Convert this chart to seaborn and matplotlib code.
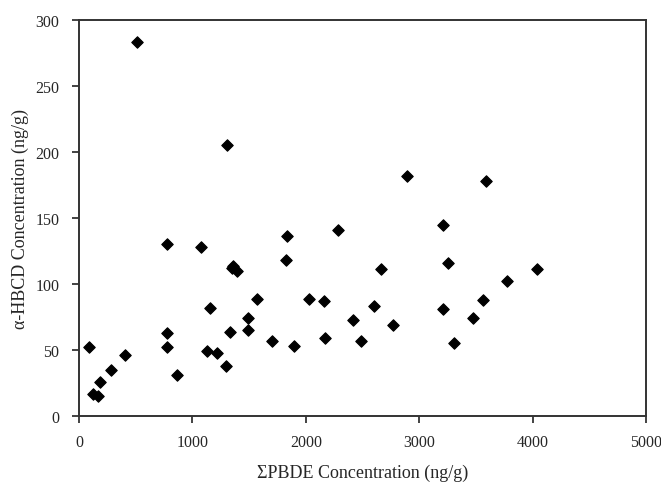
import pandas as pd
import seaborn as sns
import matplotlib
matplotlib.use("Agg")
import matplotlib.pyplot as plt

# sum PBDE (ng/g) vs alpha-HBCD (ng/g)
pbde = [511, 1305, 776, 1076, 1834, 2892, 3589, 2284, 3210,
        88, 123, 167, 185, 282, 406, 776, 776, 864, 1129, 1155,
        1217, 1296, 1332, 1358, 1349, 1393, 1490, 1490, 1570, 1702,
        1825, 1896, 2028, 2160, 2169,
        2663, 3254, 4039, 3774, 2601, 2416, 2487, 2769, 3210, 3474,
        3562, 3307]
hbcd = [283, 205, 130, 128, 136, 182, 178, 141, 145,
        52, 17, 15, 26, 35, 46, 63, 52, 31, 49, 82,
        48, 38, 64, 114, 112, 110, 74, 65, 89, 57,
        118, 53, 89, 87, 59,
        111, 116, 111, 102, 83, 73, 57, 69, 81, 74,
        88, 55]

sns.set_theme(style="white")
plt.rcParams["font.family"] = ["Liberation Serif", "DejaVu Serif"]

df = pd.DataFrame({"pbde": pbde, "hbcd": hbcd})

fig = plt.figure(figsize=(6.61, 4.85), dpi=100)
ax = fig.add_axes([0.1195, 0.1402, 0.8578, 0.8165])

sns.scatterplot(data=df, x="pbde", y="hbcd", ax=ax, marker="D", s=34,
                color="black", edgecolor="black", linewidth=0.8)

ax.set_xlim(0, 5000)
ax.set_ylim(0, 300)
ax.set_xticks([0, 1000, 2000, 3000, 4000, 5000])
ax.set_yticks([0, 50, 100, 150, 200, 250, 300])
ax.tick_params(axis="both", direction="out", length=5, width=1.2,
               labelsize=11.5, color="#222222", bottom=True, left=True)
ax.tick_params(axis="x", pad=8)
ax.tick_params(axis="y", pad=9)
for sp in ax.spines.values():
    sp.set_color("#333333")
    sp.set_linewidth(1.4)

ax.set_xlabel("\u03a3PBDE Concentration (ng/g)", fontsize=13, labelpad=10)
ax.set_ylabel("\u03b1-HBCD Concentration (ng/g)", fontsize=13, labelpad=5)

plt.savefig("out.png", dpi=100)
plt.close()
